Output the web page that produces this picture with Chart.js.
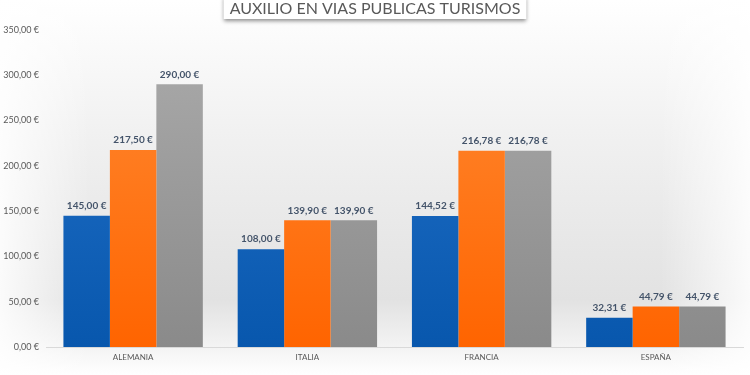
<!DOCTYPE html>
<html>
<head>
<meta charset="utf-8">
<script src="https://cdn.jsdelivr.net/npm/chart.js@4.4.1/dist/chart.umd.min.js"></script>
<style>
  html, body { margin: 0; padding: 0; background: #fff; }
  #wrap { width: 750px; height: 375px; position: relative; }
</style>
</head>
<body>
<div id="wrap"><canvas id="grafico"></canvas></div>
<script>
const titulo = "AUXILIO EN VIAS PUBLICAS TURISMOS";
const paises = ["ALEMANIA", "ITALIA", "FRANCIA", "ESPAÑA"];
const serie1 = [145.00, 108.00, 144.52, 32.31];
const serie2 = [217.50, 139.90, 216.78, 44.79];
const serie3 = [290.00, 139.90, 216.78, 44.79];
const ejeMax = 350;
const ejePaso = 50;

// formato europeo: 145,00 €
function euros(v) {
    return v.toFixed(2).replace(".", ",") + " €";
}

function degradado(ctx, arriba, abajo) {
    const area = ctx.chart.chartArea;
    if (!area) return arriba;
    const g = ctx.chart.ctx.createLinearGradient(0, area.top, 0, area.bottom);
    g.addColorStop(0, arriba);
    g.addColorStop(1, abajo);
    return g;
}

// fondo gris suave y caja del titulo
const fondoPlugin = {
    id: "fondo",
    beforeDraw(chart) {
        const c = chart.ctx;
        const w = chart.width, h = chart.height;
        c.save();
        const g = c.createLinearGradient(0, 0, 0, h);
        g.addColorStop(0, "#ffffff");
        g.addColorStop(0.35, "#f1f1f1");
        g.addColorStop(0.8, "#e2e2e2");
        g.addColorStop(0.93, "#f4f4f4");
        g.addColorStop(1, "#ffffff");
        c.fillStyle = g;
        c.fillRect(0, 0, w, h);
        const lados = c.createLinearGradient(0, 0, w, 0);
        lados.addColorStop(0, "rgba(255,255,255,0.85)");
        lados.addColorStop(0.12, "rgba(255,255,255,0)");
        lados.addColorStop(0.88, "rgba(255,255,255,0)");
        lados.addColorStop(1, "rgba(255,255,255,0.85)");
        c.fillStyle = lados;
        c.fillRect(0, 0, w, h);
        c.restore();
    },
    afterDraw(chart) {
        const c = chart.ctx;
        c.save();
        c.font = "16px Lato";
        const tw = c.measureText(titulo).width;
        const x0 = chart.width / 2 - tw / 2 - 6;
        c.shadowColor = "rgba(0,0,0,0.45)";
        c.shadowBlur = 4;
        c.shadowOffsetY = 2;
        c.fillStyle = "#ffffff";
        c.fillRect(x0, -4, tw + 12, 23);
        c.shadowColor = "transparent";
        c.fillStyle = "#595959";
        c.textAlign = "center";
        c.textBaseline = "alphabetic";
        c.fillText(titulo, chart.width / 2, 14);
        c.restore();
    }
};

// etiquetas de valor sobre cada barra
const etiquetasPlugin = {
    id: "etiquetas",
    afterDatasetsDraw(chart) {
        const c = chart.ctx;
        c.save();
        c.font = "bold 10px Lato";
        c.fillStyle = "#44546a";
        c.textAlign = "center";
        c.textBaseline = "bottom";
        chart.data.datasets.forEach((ds, i) => {
            chart.getDatasetMeta(i).data.forEach((bar, j) => {
                c.fillText(euros(ds.data[j]), bar.x, bar.y - 5);
            });
        });
        c.restore();
    }
};

new Chart(document.getElementById("grafico"), {
    type: "bar",
    data: {
        labels: paises,
        datasets: [
            { label: "1", data: serie1, backgroundColor: ctx => degradado(ctx, "#2473cb", "#0857ad") },
            { label: "2", data: serie2, backgroundColor: ctx => degradado(ctx, "#ff8b34", "#ff6400") },
            { label: "3", data: serie3, backgroundColor: ctx => degradado(ctx, "#ababab", "#8a8a8a") }
        ]
    },
    options: {
        responsive: true,
        maintainAspectRatio: false,
        animation: false,
        layout: { padding: { top: 30, right: 7, left: 0, bottom: 0 } },
        datasets: { bar: { categoryPercentage: 0.8, barPercentage: 1.0 } },
        plugins: { legend: { display: false }, tooltip: { enabled: false } },
        scales: {
            x: {
                grid: { display: false, drawTicks: false },
                border: { display: true, color: "#d9d9d9" },
                ticks: { color: "#595959", font: { family: "Lato", size: 8 }, padding: 6 },
                afterFit(axis) { axis.height = 28; }
            },
            y: {
                min: 0,
                max: ejeMax,
                grid: { display: false, drawTicks: false },
                border: { display: false },
                ticks: {
                    stepSize: ejePaso,
                    color: "#595959",
                    font: { family: "Lato", size: 9 },
                    padding: 7,
                    callback: v => euros(v)
                },
                afterFit(axis) { axis.width = 46; }
            }
        }
    },
    plugins: [fondoPlugin, etiquetasPlugin]
});
</script>
</body>
</html>
